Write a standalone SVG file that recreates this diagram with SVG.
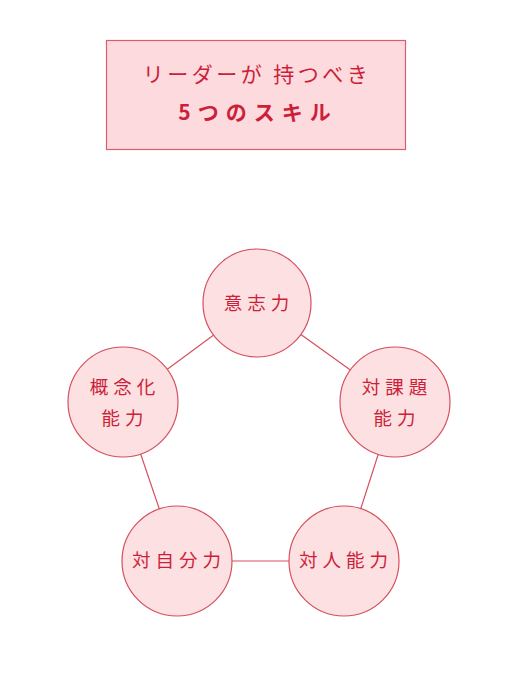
<svg xmlns="http://www.w3.org/2000/svg" width="512" height="700" viewBox="0 0 512 700">
<style>
.node circle{fill:#fde0e1;stroke:#d4505f;stroke-width:1.2}
.t{font-family:"Noto Sans CJK JP","Noto Sans CJK SC",sans-serif;fill:#cc1f3a;font-size:18.5px;text-anchor:middle;letter-spacing:5px}
.edge{stroke:#d4505f;stroke-width:1.2;fill:none}
</style>
<rect width="512" height="700" fill="#fff"/>
<g id="title">
<rect x="106.5" y="40.5" width="299" height="109" fill="#fddadd" stroke="#d9606e" stroke-width="1.2"/>
<text class="t" x="257" y="82" style="font-size:21px;letter-spacing:3.5px">リーダーが 持つべき</text>
<text class="t" x="258" y="120" style="font-size:21px;letter-spacing:7px;font-weight:bold">5つのスキル</text>
</g>
<g id="connectors">
<line class="edge" x1="257" y1="303" x2="123" y2="402"/>
<line class="edge" x1="257" y1="303" x2="395" y2="402"/>
<line class="edge" x1="123" y1="402" x2="177" y2="561"/>
<line class="edge" x1="395" y1="402" x2="344" y2="561"/>
<line class="edge" x1="177" y1="561" x2="344" y2="561"/>
</g>
<g id="node-ishi" class="node">
<circle cx="257" cy="303" r="54"/>
<text class="t" x="259" y="310">意志力</text>
</g>
<g id="node-gainen" class="node">
<circle cx="123" cy="402" r="55"/>
<text class="t" x="125" y="394">概念化</text>
<text class="t" x="125" y="425">能力</text>
</g>
<g id="node-taikadai" class="node">
<circle cx="395" cy="402" r="55"/>
<text class="t" x="397" y="394">対課題</text>
<text class="t" x="397" y="425">能力</text>
</g>
<g id="node-taiji" class="node">
<circle cx="177" cy="561" r="55"/>
<text class="t" x="179" y="567">対自分力</text>
</g>
<g id="node-taijin" class="node">
<circle cx="344" cy="561" r="55"/>
<text class="t" x="346" y="567">対人能力</text>
</g>
</svg>
